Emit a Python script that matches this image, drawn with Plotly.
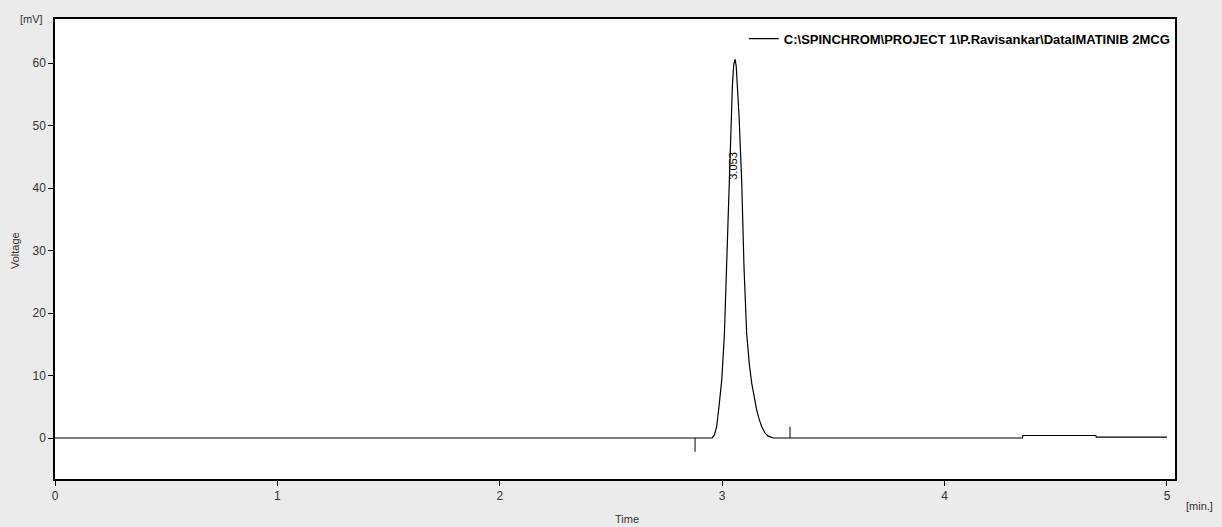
import plotly.graph_objects as go

# Chromatogram trace (time in min, voltage in mV)
time_min = [0.0, 2.955, 2.965, 2.975, 2.987, 2.998, 3.010, 3.020, 3.031, 3.040, 3.046, 3.052, 3.058,
            3.063, 3.069, 3.076, 3.088, 3.098, 3.110, 3.122, 3.133, 3.145, 3.155, 3.167, 3.178,
            3.192, 3.207, 3.23,
            4.35, 4.352, 4.68, 4.682, 5.0]
voltage_mv = [0.0, 0.0, 0.5, 1.8, 5.5, 9.3, 16.7, 27.4, 40.7, 51.4, 56.5, 59.8, 60.6,
              59.5, 56.0, 51.4, 40.7, 27.4, 16.7, 11.8, 8.7, 6.3, 4.5, 2.9, 1.8,
              0.8, 0.3, 0.0,
              0.0, 0.4, 0.4, 0.15, 0.15]

# Integration markers (peak start / end)
marker_start_t = [2.878, 2.878]
marker_start_v = [0.0, -2.2]
marker_end_t = [3.305, 3.305]
marker_end_v = [0.0, 1.8]

peak_rt_label = "3.053"
peak_rt = 3.047
peak_label_v = 43.5

legend_name = "C:\\SPINCHROM\\PROJECT 1\\P.Ravisankar\\DataIMATINIB 2MCG"

x_ticks = [0, 1, 2, 3, 4, 5]
y_ticks = [0, 10, 20, 30, 40, 50, 60]

font_family = "Liberation Sans, Arial, sans-serif"
text_color = "#333333"

fig = go.Figure()
fig.add_trace(go.Scatter(x=time_min, y=voltage_mv, mode="lines",
                         line=dict(color="#000000", width=1.2),
                         name=legend_name, showlegend=True))
fig.add_trace(go.Scatter(x=marker_start_t, y=marker_start_v, mode="lines",
                         line=dict(color="#000000", width=1), showlegend=False))
fig.add_trace(go.Scatter(x=marker_end_t, y=marker_end_v, mode="lines",
                         line=dict(color="#000000", width=1), showlegend=False))

fig.add_annotation(x=peak_rt, y=peak_label_v, xref="x", yref="y", text=peak_rt_label,
                   textangle=-90, showarrow=False,
                   font=dict(family=font_family, size=11, color="#000000"))

fig.update_layout(
    width=1222, height=527,
    margin=dict(l=55, r=47, t=19, b=48),
    paper_bgcolor="#ebebeb", plot_bgcolor="#ffffff",
    font=dict(family=font_family, size=12, color=text_color),
    showlegend=True,
    legend=dict(x=0.615, y=0.99, xanchor="left", yanchor="top",
                bgcolor="rgba(0,0,0,0)", itemwidth=30,
                font=dict(family=font_family, size=13, color="#000000", weight="bold")),
)
fig.update_xaxes(range=[0, 5.036], tickvals=x_ticks, ticks="outside", ticklen=5,
                 tickcolor="#000000", showline=True, linecolor="#000000", linewidth=1.5,
                 mirror=True, showgrid=False, zeroline=False, automargin=False,
                 tickfont=dict(size=12, color=text_color))
fig.update_yaxes(range=[-6.56, 67.04], tickvals=y_ticks, ticks="outside", ticklen=5,
                 tickcolor="#000000", showline=True, linecolor="#000000", linewidth=1.5,
                 mirror=True, showgrid=False, zeroline=False, automargin=False,
                 tickfont=dict(size=12, color=text_color))

fig.add_annotation(text="[mV]", x=0.0, y=1.0, xref="paper", yref="paper",
                   xshift=-37, yshift=8, showarrow=False, font=dict(size=11, color=text_color))
fig.add_annotation(text="Voltage", x=0.0, y=0.5, xref="paper", yref="paper",
                   xshift=-48, yshift=-2, textangle=-90, showarrow=False,
                   font=dict(size=11, color=text_color))
fig.add_annotation(text="Time", x=0.5, y=0.0, xref="paper", yref="paper",
                   xshift=12, yshift=-48, showarrow=False, font=dict(size=11, color=text_color))
fig.add_annotation(text="[min.]", x=1.0, y=0.0, xref="paper", yref="paper",
                   xshift=40, yshift=-35, showarrow=False, font=dict(size=11, color=text_color))

fig.write_html("out.html", config={"displayModeBar": False},
               post_script="document.body.style.margin='0';document.body.style.background='#ebebeb';")
